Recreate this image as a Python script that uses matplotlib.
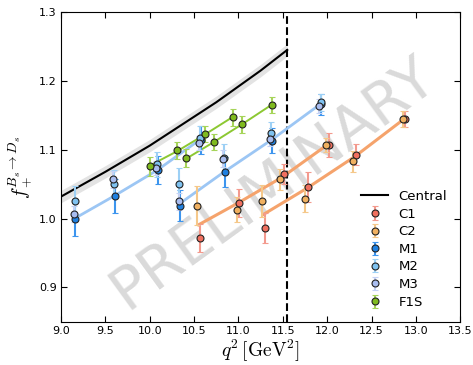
import matplotlib
matplotlib.use("Agg")
import matplotlib.pyplot as plt

plt.rcParams['mathtext.fontset'] = 'cm'
plt.rcParams['xtick.direction'] = 'in'
plt.rcParams['ytick.direction'] = 'in'

# central curve
central_q2 = [9.0, 9.25, 9.5, 9.75, 10.0, 10.25, 10.5, 10.75, 11.0, 11.25, 11.55]
central_f = [1.032, 1.050, 1.068, 1.087, 1.106, 1.127, 1.148, 1.169, 1.192, 1.215, 1.245]
central_err = 0.009
q2_max = 11.55

# lattice data
c1_q2 = [10.567, 11.007, 11.300, 11.514, 11.785, 12.021, 12.326, 12.878]
c1_f = [0.972, 1.023, 0.986, 1.065, 1.046, 1.107, 1.093, 1.145]
c1_err = [0.020, 0.020, 0.022, 0.015, 0.022, 0.018, 0.015, 0.012]

c2_q2 = [10.533, 10.984, 11.266, 11.469, 11.751, 11.988, 12.292, 12.856]
c2_f = [1.019, 1.013, 1.026, 1.057, 1.029, 1.107, 1.083, 1.145]
c2_err = [0.028, 0.018, 0.023, 0.015, 0.020, 0.010, 0.015, 0.012]

m1_q2 = [9.16, 9.61, 10.09, 10.58, 10.34, 10.85, 11.38, 11.93]
m1_f = [1.000, 1.033, 1.071, 1.114, 1.019, 1.068, 1.113, 1.166]
m1_err = [0.025, 0.025, 0.020, 0.020, 0.022, 0.022, 0.018, 0.015]

m2_q2 = [9.16, 9.60, 10.08, 10.57, 10.33, 10.84, 11.37, 11.93]
m2_f = [1.026, 1.051, 1.079, 1.117, 1.051, 1.088, 1.125, 1.169]
m2_err = [0.022, 0.020, 0.018, 0.018, 0.022, 0.020, 0.015, 0.012]

m3_q2 = [9.15, 9.59, 10.07, 10.556, 10.33, 10.83, 11.36, 11.91]
m3_f = [1.007, 1.057, 1.073, 1.110, 1.025, 1.087, 1.115, 1.164]
m3_err = [0.012, 0.012, 0.010, 0.010, 0.012, 0.012, 0.010, 0.010]

f1s_q2 = [10.00, 10.31, 10.62, 10.94, 10.41, 10.72, 11.04, 11.375]
f1s_f = [1.076, 1.099, 1.123, 1.147, 1.088, 1.111, 1.137, 1.165]
f1s_err = [0.014, 0.013, 0.012, 0.012, 0.013, 0.012, 0.012, 0.011]

# fit lines per ensemble
fit_c_a = ([10.55, 11.0, 11.49, 12.0], [0.991, 1.023, 1.060, 1.107])
fit_c_b = ([11.28, 11.77, 12.31, 12.87], [1.006, 1.044, 1.090, 1.145])
fit_m_a = ([9.15, 9.6, 10.08, 10.58], [1.000, 1.033, 1.070, 1.116])
fit_m_b = ([10.34, 10.84, 11.38, 11.92], [1.022, 1.068, 1.115, 1.166])
fit_f_a = ([10.0, 10.31, 10.62, 10.94], [1.077, 1.098, 1.122, 1.148])
fit_f_b = ([10.41, 10.72, 11.04, 11.37], [1.087, 1.111, 1.137, 1.165])

fig = plt.figure(figsize=(4.73, 3.65), dpi=100)
ax = fig.add_axes([0.129, 0.118, 0.844, 0.849])

lo = [f - central_err for f in central_f]
hi = [f + central_err for f in central_f]
ax.fill_between(central_q2, lo, hi, color='#e3e3e3', lw=0, zorder=1)
ax.plot(central_q2, central_f, color='black', lw=1.5, label='Central', zorder=2)
ax.axvline(q2_max, color='black', ls='--', lw=1.5, zorder=2)

for xs, ys in [fit_c_a, fit_c_b]:
    ax.plot(xs, ys, color='#f5a36c', lw=2.2, zorder=2)
for xs, ys in [fit_m_a, fit_m_b]:
    ax.plot(xs, ys, color='#9cc6f4', lw=2.0, zorder=2)
for xs, ys in [fit_f_a, fit_f_b]:
    ax.plot(xs, ys, color='#8cc832', lw=1.4, zorder=2)

series = [
    ('C1', c1_q2, c1_f, c1_err, '#f0705f', '#f39a8e'),
    ('C2', c2_q2, c2_f, c2_err, '#f0b060', '#f5c88a'),
    ('M1', m1_q2, m1_f, m1_err, '#1f80e0', '#3d95ee'),
    ('M2', m2_q2, m2_f, m2_err, '#7fc2f0', '#9dd0f5'),
    ('M3', m3_q2, m3_f, m3_err, '#a9bdf0', '#c5d2f5'),
    ('F1S', f1s_q2, f1s_f, f1s_err, '#7fba1e', '#a6d45a'),
]
for name, xs, ys, es, col, ecol in series:
    ax.errorbar(xs, ys, yerr=es, fmt='o', ms=5, mfc=col, mec='#222222', mew=0.8,
                ecolor=ecol, elinewidth=1.5, capsize=2, capthick=1, label=name, zorder=3)

ax.text(0.53, 0.45, 'PRELIMINARY', transform=ax.transAxes, fontsize=42,
        color='#bbbbbb', alpha=0.55, rotation=36, ha='center', va='center', zorder=0)

ax.set_xlim(9.0, 13.5)
ax.set_ylim(0.85, 1.3)
ax.set_xticks([9.0, 9.5, 10.0, 10.5, 11.0, 11.5, 12.0, 12.5, 13.0, 13.5])
ax.set_yticks([0.9, 1.0, 1.1, 1.2, 1.3])
ax.tick_params(labelsize=8, top=True, right=True, length=4, pad=3)
ax.set_xlabel(r'$q^2\,[\mathrm{GeV}^2]$', fontsize=14, labelpad=1)
ax.set_ylabel(r'$f_+^{B_s\to D_s}$', fontsize=14, labelpad=4)
ax.legend(loc='lower right', frameon=False, fontsize=9.5, numpoints=1,
          labelspacing=0.35, borderaxespad=0.6)

fig.savefig('out.png', dpi=100)
